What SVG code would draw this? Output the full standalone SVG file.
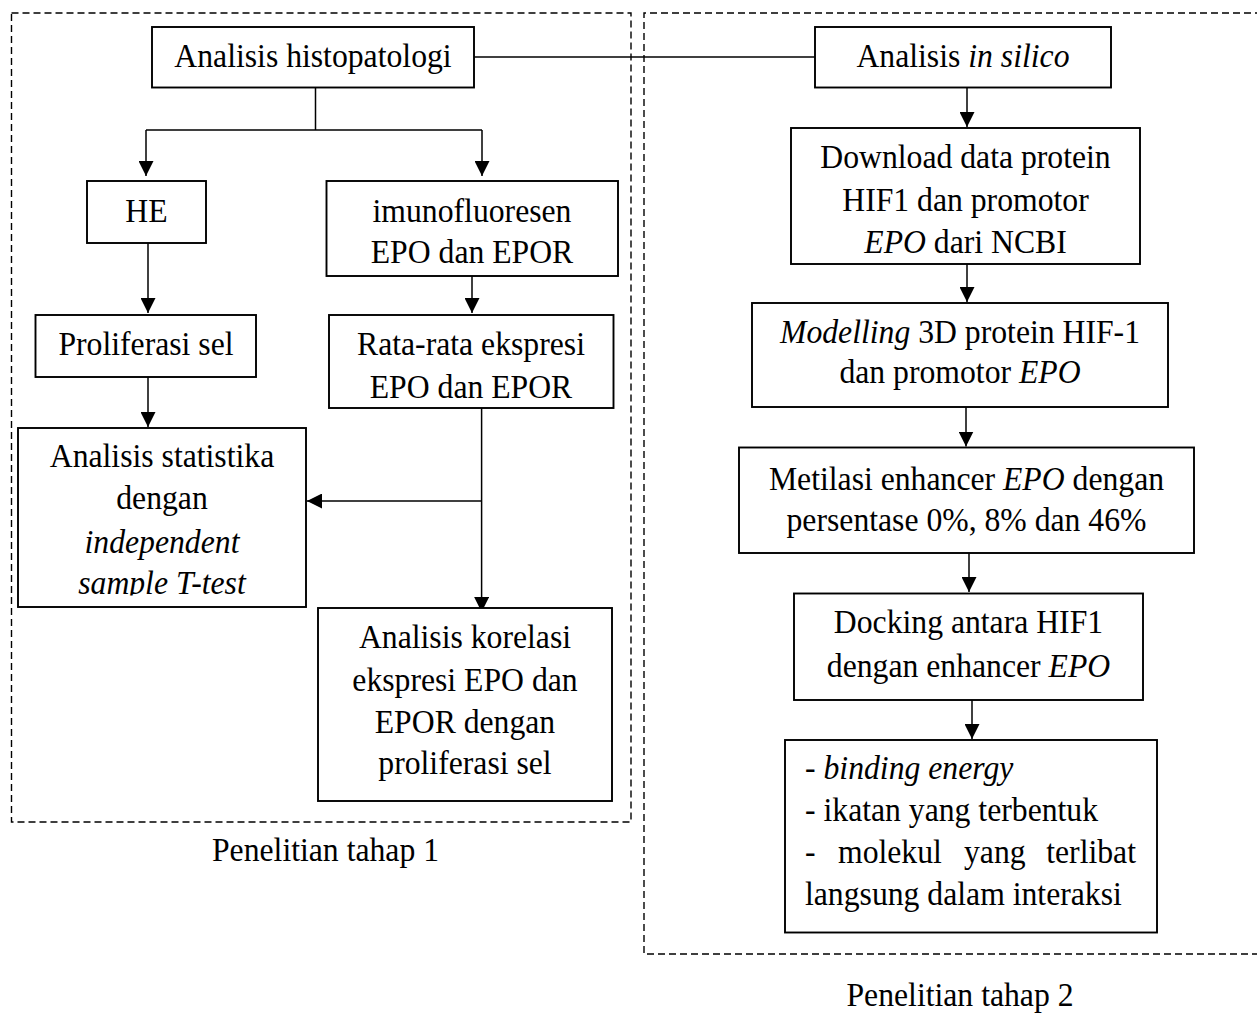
<svg xmlns="http://www.w3.org/2000/svg" width="1257" height="1014" viewBox="0 0 1257 1014">
<style>
text{font-family:"Liberation Serif","Times New Roman",serif;font-size:31.7px;fill:#000;transform-box:fill-box;transform-origin:50% 50%;transform:scaleY(1.06)}
.c{text-anchor:middle}
.i{font-style:italic}
.box{fill:#fff;stroke:#000;stroke-width:1.9}
.dash{fill:none;stroke:#000;stroke-width:1.4;stroke-dasharray:7 4}
.ln{fill:none;stroke:#000;stroke-width:1.5}
</style>
<defs>
<marker id="ah" viewBox="0 0 10 10" refX="10" refY="5" markerWidth="15" markerHeight="15" markerUnits="userSpaceOnUse" orient="auto">
<path d="M0,0 L10,5 L0,10 Z" fill="#000"/>
</marker>
<clipPath id="statclip"><rect x="18" y="428" width="288" height="167.5"/></clipPath>
</defs>
<rect width="1257" height="1014" fill="#fff"/>

<g id="groups">
<rect class="dash" x="11.5" y="13" width="619.5" height="809"/>
<path class="dash" d="M1262,13 H644 V954 H1262"/>
<text class="c" x="325.5" y="860">Penelitian tahap 1</text>
<text class="c" x="960" y="1005">Penelitian tahap 2</text>
</g>

<g id="connectors">
<line class="ln" x1="474" y1="57" x2="815" y2="57"/>
<path class="ln" d="M315.5,88 V130 M146,130 H482"/>
<line class="ln" x1="146" y1="130" x2="146" y2="176" marker-end="url(#ah)"/>
<line class="ln" x1="482" y1="130" x2="482" y2="176" marker-end="url(#ah)"/>
<line class="ln" x1="148" y1="243" x2="148" y2="313" marker-end="url(#ah)"/>
<line class="ln" x1="472" y1="276" x2="472" y2="313" marker-end="url(#ah)"/>
<line class="ln" x1="148" y1="377" x2="148" y2="427" marker-end="url(#ah)"/>
<line class="ln" x1="481.6" y1="408" x2="481.6" y2="612" marker-end="url(#ah)"/>
<line class="ln" x1="481.6" y1="501" x2="307" y2="501" marker-end="url(#ah)"/>
<line class="ln" x1="967" y1="88" x2="967" y2="127" marker-end="url(#ah)"/>
<line class="ln" x1="967" y1="264" x2="967" y2="302" marker-end="url(#ah)"/>
<line class="ln" x1="966" y1="407" x2="966" y2="446.5" marker-end="url(#ah)"/>
<line class="ln" x1="969" y1="553" x2="969" y2="592" marker-end="url(#ah)"/>
<line class="ln" x1="972" y1="700" x2="972" y2="739" marker-end="url(#ah)"/>
</g>

<g id="n-histo">
<rect class="box" x="152" y="27" width="322" height="60.5"/>
<text class="c" x="313" y="66">Analisis histopatologi</text>
</g>
<g id="n-insilico">
<rect class="box" x="815" y="27" width="296" height="60.5"/>
<text class="c" x="963" y="66">Analisis <tspan class="i">in silico</tspan></text>
</g>
<g id="n-he">
<rect class="box" x="87" y="181" width="119" height="62"/>
<text class="c" x="146.5" y="221">HE</text>
</g>
<g id="n-imuno">
<rect class="box" x="326.5" y="181" width="291.5" height="95"/>
<text class="c" x="472" y="221">imunofluoresen</text>
<text class="c" x="472" y="262.5">EPO dan EPOR</text>
</g>
<g id="n-prolif">
<rect class="box" x="35.5" y="315" width="220.5" height="62"/>
<text class="c" x="146" y="354">Proliferasi sel</text>
</g>
<g id="n-rata">
<rect class="box" x="329" y="315" width="284.5" height="93"/>
<text class="c" x="471" y="354">Rata-rata ekspresi</text>
<text class="c" x="471" y="397">EPO dan EPOR</text>
</g>
<g id="n-stat">
<rect class="box" x="18" y="428" width="288" height="179"/>
<g clip-path="url(#statclip)">
<text class="c" x="162" y="466">Analisis statistika</text>
<text class="c" x="162" y="508">dengan</text>
<text class="c i" x="162" y="552">independent</text>
<text class="c i" x="162" y="593">sample T-test</text>
</g>
</g>
<g id="n-korelasi">
<rect class="box" x="318" y="608" width="294" height="193"/>
<text class="c" x="465" y="647">Analisis korelasi</text>
<text class="c" x="465" y="690">ekspresi EPO dan</text>
<text class="c" x="465" y="732">EPOR dengan</text>
<text class="c" x="465" y="773">proliferasi sel</text>
</g>
<g id="n-download">
<rect class="box" x="791" y="128" width="349" height="136"/>
<text class="c" x="965.5" y="167">Download data protein</text>
<text class="c" x="965.5" y="210">HIF1 dan promotor</text>
<text class="c" x="965.5" y="252"><tspan class="i">EPO</tspan> dari NCBI</text>
</g>
<g id="n-model">
<rect class="box" x="752" y="303" width="416" height="104"/>
<text class="c" x="960" y="342"><tspan class="i">Modelling</tspan> 3D protein HIF-1</text>
<text class="c" x="960" y="382">dan promotor <tspan class="i">EPO</tspan></text>
</g>
<g id="n-metilasi">
<rect class="box" x="739" y="447.5" width="455" height="105.5"/>
<text class="c" x="966.5" y="489">Metilasi enhancer <tspan class="i">EPO</tspan> dengan</text>
<text class="c" x="966.5" y="530">persentase 0%, 8% dan 46%</text>
</g>
<g id="n-docking">
<rect class="box" x="794" y="593.5" width="349" height="106.5"/>
<text class="c" x="968.5" y="632">Docking antara HIF1</text>
<text class="c" x="968.5" y="676">dengan enhancer <tspan class="i">EPO</tspan></text>
</g>
<g id="n-result">
<rect class="box" x="785" y="740" width="372" height="192.5"/>
<text x="805" y="778">- <tspan class="i">binding energy</tspan></text>
<text x="805" y="820">- ikatan yang terbentuk</text>
<text y="862"><tspan x="805">-</tspan><tspan x="838">molekul</tspan><tspan x="964">yang</tspan><tspan x="1136" text-anchor="end">terlibat</tspan></text>
<text x="805" y="904">langsung dalam interaksi</text>
</g>
</svg>
